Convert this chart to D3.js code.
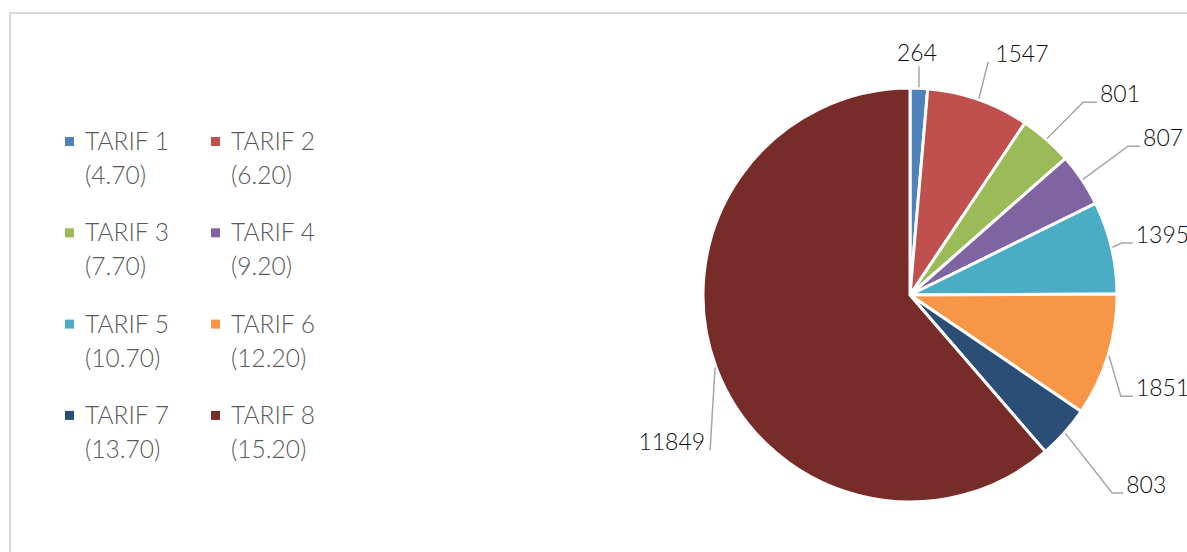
<!DOCTYPE html>
<html>
<head>
<meta charset="utf-8">
<script src="https://cdn.jsdelivr.net/npm/d3@7"></script>
<style>
  body { margin: 0; overflow: hidden; background: #fff; }
  text { font-family: Lato, "Liberation Sans", sans-serif; font-weight: 300; }
</style>
</head>
<body>
<script>
// tariff data
const categories = ["TARIF 1", "TARIF 2", "TARIF 3", "TARIF 4", "TARIF 5", "TARIF 6", "TARIF 7", "TARIF 8"];
const rates = ["(4.70)", "(6.20)", "(7.70)", "(9.20)", "(10.70)", "(12.20)", "(13.70)", "(15.20)"];
const values = [264, 1547, 801, 807, 1395, 1851, 803, 11849];
const colors = ["#4f81bd", "#c0504d", "#9bbb59", "#8064a2", "#4bacc6", "#f79646", "#2c4d75", "#772c2a"];

// label placement (excel "best fit" look): elbow distance, angle nudge in deg, horizontal tail
const labelRadius = [229, 246, 259, 264, 218, 234, 283, 253];
const labelNudge = [-0.2, -0.8, 0.7, -0.5, -0.5, 8.7, 2.7, -17.4];
const labelTail = [0, 0, 14, 12, 11, 12, 11, 0];

const W = 1187, H = 552;
const cx = 910, cy = 295, r = 207;

const svg = d3.select("body")
  .append("svg")
  .attr("width", W)
  .attr("height", H);

// chart frame (runs off the right / bottom edge)
svg.append("rect")
  .attr("x", 10)
  .attr("y", 13)
  .attr("width", 1300)
  .attr("height", 700)
  .attr("fill", "none")
  .attr("stroke", "#d9d9d9")
  .attr("stroke-width", 2);

const data = categories.map(function(c, i) {
  return {name: c, rate: rates[i], value: values[i], color: colors[i], i: i};
});

const pie = d3.pie()
  .sort(null)
  .value(function(d) { return d.value; });

const arc = d3.arc()
  .innerRadius(0)
  .outerRadius(r);

const arcs = pie(data);

const g = svg.append("g")
  .attr("transform", "translate(" + cx + "," + cy + ")");

g.selectAll("path.slice")
  .data(arcs)
  .enter().append("path")
  .attr("class", "slice")
  .attr("d", arc)
  .attr("fill", function(d) { return d.data.color; })
  .attr("stroke", "#fff")
  .attr("stroke-width", 3)
  .attr("stroke-linejoin", "round");

function polar(rad, ang) {
  return [rad * Math.sin(ang), -rad * Math.cos(ang)];
}

// leader lines + value labels
arcs.forEach(function(d, i) {
  const mid = (d.startAngle + d.endAngle) / 2;
  const start = polar(r + 1, mid);
  const ang = mid + labelNudge[i] * Math.PI / 180;
  const elbow = polar(labelRadius[i], ang);
  const right = Math.sin(ang) >= 0;
  const pts = [start, elbow];
  let tx, ty = elbow[1], anchor;

  if (labelTail[i] > 0) {
    const end = [elbow[0] + (right ? labelTail[i] : -labelTail[i]), elbow[1]];
    pts.push(end);
    tx = end[0] + (right ? 3 : -3);
    anchor = right ? "start" : "end";
  } else if (Math.abs(Math.sin(ang)) < 0.1) {
    tx = elbow[0] - 2;
    ty = elbow[1] - 5;
    anchor = "middle";
  } else {
    tx = elbow[0] + (right ? 7 : -5);
    anchor = right ? "start" : "end";
  }

  g.append("path")
    .attr("d", d3.line()(pts))
    .attr("fill", "none")
    .attr("stroke", "#a6a6a6")
    .attr("stroke-width", 1.5);

  g.append("text")
    .attr("x", tx)
    .attr("y", ty)
    .attr("text-anchor", anchor)
    .attr("font-size", 23)
    .attr("fill", "#0d0d0d")
    .text(d.data.value);
});

// legend, two columns
const legend = svg.append("g");

const item = legend.selectAll("g.item")
  .data(data)
  .enter().append("g")
  .attr("class", "item")
  .attr("transform", function(d) {
    const col = d.i % 2, row = Math.floor(d.i / 2);
    return "translate(" + (65 + col * 146) + "," + (150 + row * 91.3) + ")";
  });

item.append("rect")
  .attr("x", 0)
  .attr("y", -13)
  .attr("width", 9)
  .attr("height", 9)
  .attr("fill", function(d) { return d.color; });

item.append("text")
  .attr("x", 20)
  .attr("y", 0)
  .attr("font-size", 24.5)
  .attr("fill", "#595959")
  .text(function(d) { return d.name; });

item.append("text")
  .attr("x", 20)
  .attr("y", 34)
  .attr("font-size", 24.5)
  .attr("fill", "#595959")
  .text(function(d) { return d.rate; });
</script>
</body>
</html>
